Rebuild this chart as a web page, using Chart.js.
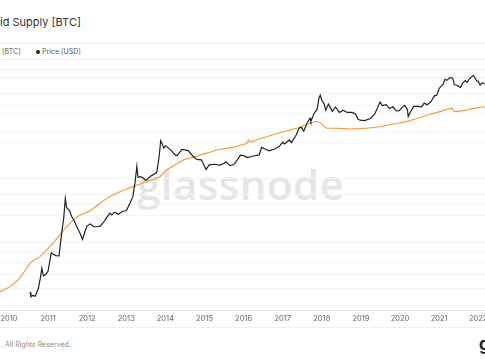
<!DOCTYPE html>
<html>
<head>
<meta charset="utf-8">
<script src="https://cdn.jsdelivr.net/npm/chart.js@4.4.1/dist/chart.umd.min.js"></script>
<style>
    body { margin: 0; width: 485px; height: 360px; overflow: hidden; background: #fff; font-family: Inter, 'Open Sans', sans-serif; position: relative; }
    #titulo { position: absolute; left: 0; top: 17px; font-size: 11px; line-height: 11px; color: #333; white-space: nowrap; }
    #legenda { position: absolute; left: 0; top: 43px; width: 485px; height: 15px; border-top: 1px solid #f0f0f0; border-bottom: 1px solid #f0f0f0; font-size: 7px; color: #555; }
    #legenda span { position: absolute; top: 4px; line-height: 7px; white-space: nowrap; }
    #legenda .ponto { display: inline-block; width: 4px; height: 4px; border-radius: 50%; background: #222; margin-right: 2px; vertical-align: 0px; }
    #marca { position: absolute; left: 137px; top: 163px; font-family: 'Open Sans', sans-serif; font-size: 42px; line-height: 42px; font-weight: 600; letter-spacing: 0.5px; color: #e5e5e5; white-space: nowrap; }
    #grafico { position: absolute; left: 0; top: 59px; }
    #rodape { position: absolute; left: 0; top: 327px; width: 485px; border-top: 1px solid #f0f0f0; }
    #rodape .texto { position: absolute; left: 1px; top: 13px; font-size: 7px; line-height: 7px; color: #888; white-space: nowrap; }
    #rodape .logo { position: absolute; left: 479px; top: 8px; font-size: 17px; line-height: 17px; font-weight: 700; color: #222; }
</style>
</head>
<body>
<div id="titulo">id Supply [BTC]</div>
<div id="legenda">
    <span style="left:2px">[BTC]</span>
    <span style="left:36px"><i class="ponto"></i>Price [USD]</span>
</div>
<div id="marca">glassnode</div>
<canvas id="grafico" width="485" height="266"></canvas>
<div id="rodape"><span class="texto">. All Rights Reserved.</span><span class="logo">g</span></div>

<script>
// - - - - - - - - - - Dados - - - - - - - - - -

// Preço do BTC [USD] (ano decimal)
const anos_preco = [
    2010.54, 2010.56, 2010.60, 2010.67, 2010.75, 2010.80, 2010.84, 2010.88, 2010.95,
    2011.00, 2011.08, 2011.12, 2011.20, 2011.28, 2011.35, 2011.40, 2011.44, 2011.47, 2011.50, 2011.55, 2011.60, 2011.67, 2011.75, 2011.82, 2011.88, 2011.95,
    2012.00, 2012.08, 2012.17, 2012.25, 2012.33, 2012.42, 2012.50, 2012.58, 2012.63, 2012.70, 2012.80, 2012.90,
    2013.00, 2013.08, 2013.17, 2013.23, 2013.27, 2013.30, 2013.35, 2013.42, 2013.50, 2013.55, 2013.62, 2013.70, 2013.78, 2013.84, 2013.88, 2013.92, 2013.96,
    2014.00, 2014.08, 2014.15, 2014.25, 2014.30, 2014.42, 2014.50, 2014.58, 2014.70, 2014.80, 2014.92,
    2015.04, 2015.12, 2015.25, 2015.40, 2015.50, 2015.55, 2015.65, 2015.75, 2015.84, 2015.92,
    2016.00, 2016.10, 2016.25, 2016.40, 2016.46, 2016.55, 2016.65, 2016.80, 2016.92,
    2017.00, 2017.05, 2017.17, 2017.22, 2017.33, 2017.42, 2017.48, 2017.54, 2017.62, 2017.70, 2017.72, 2017.80, 2017.88, 2017.93, 2017.96,
    2018.00, 2018.06, 2018.10, 2018.17, 2018.27, 2018.35, 2018.45, 2018.55, 2018.65, 2018.78, 2018.87, 2018.92, 2018.98,
    2019.10, 2019.25, 2019.35, 2019.42, 2019.49, 2019.55, 2019.65, 2019.73, 2019.82, 2019.90, 2019.97,
    2020.05, 2020.12, 2020.19, 2020.21, 2020.27, 2020.35, 2020.45, 2020.55, 2020.62, 2020.70, 2020.80, 2020.88, 2020.94,
    2021.00, 2021.05, 2021.10, 2021.15, 2021.20, 2021.28, 2021.35, 2021.39, 2021.45, 2021.50, 2021.55, 2021.60, 2021.67, 2021.72, 2021.78, 2021.84, 2021.87, 2021.92, 2021.96,
    2022.00, 2022.05, 2022.10, 2022.17
];
const preco_usd = [
    0.08, 0.06, 0.065, 0.062, 0.10, 0.19, 0.36, 0.22, 0.25,
    0.30, 0.95, 0.88, 0.80, 0.78, 3.5, 8.5, 29, 17, 15, 13.5, 9.5, 7, 4.5, 3.2, 2.2, 3.8,
    5.2, 5.8, 4.9, 4.9, 5.1, 6.5, 8.8, 11.5, 10.3, 12.2, 10.8, 13,
    13.4, 20, 33, 90, 220, 110, 115, 108, 90, 100, 118, 132, 150, 400, 1100, 900, 690,
    800, 690, 590, 450, 430, 640, 620, 590, 420, 340, 330,
    180, 240, 250, 237, 265, 290, 230, 245, 330, 440,
    430, 380, 420, 450, 720, 650, 580, 650, 780,
    1000, 890, 1150, 970, 1450, 2400, 2550, 2000, 3300, 4500, 3700, 6000, 8000, 16500, 19200,
    14000, 11000, 7500, 11000, 7000, 9200, 6500, 7500, 6500, 6500, 5800, 4300, 4000,
    3900, 4500, 5800, 8500, 12500, 10000, 10600, 8300, 9300, 7300, 7200,
    8700, 10200, 7900, 5000, 6800, 9500, 9500, 9250, 11700, 10600, 13200, 18500, 19300,
    29000, 34000, 38000, 52000, 49000, 59000, 56000, 37000, 36000, 33500, 31500, 41000, 48000, 43000, 55000, 62000, 66500, 57000, 47000,
    46500, 36500, 42000, 39000
];

// Oferta ilíquida [BTC]
const anos_oferta = [
    2009.77, 2009.90, 2010.03, 2010.15, 2010.28, 2010.40, 2010.54, 2010.66, 2010.79, 2010.92,
    2011.05, 2011.17, 2011.30, 2011.43, 2011.56, 2011.69, 2011.82, 2011.95,
    2012.07, 2012.20, 2012.33, 2012.45, 2012.58, 2012.71, 2012.84, 2012.97,
    2013.17, 2013.35, 2013.53, 2013.70, 2013.86,
    2014.03, 2014.25, 2014.46, 2014.67, 2014.88,
    2015.10, 2015.31, 2015.52, 2015.74, 2015.95,
    2016.08, 2016.12, 2016.16, 2016.38, 2016.59, 2016.80,
    2017.02, 2017.19, 2017.36, 2017.53, 2017.70, 2017.85, 2017.95,
    2018.05, 2018.13, 2018.38, 2018.55, 2018.72, 2018.95,
    2019.20, 2019.49, 2019.74, 2019.95,
    2020.17, 2020.35, 2020.51, 2020.75,
    2021.02, 2021.15, 2021.28, 2021.33, 2021.38, 2021.45, 2021.58, 2021.71, 2021.85,
    2022.00, 2022.17
];
const oferta_btc = [
    975000, 1010000, 1050000, 1110000, 1190000, 1320000, 1480000, 1560000, 1620000, 1750000,
    1880000, 2040000, 2230000, 2450000, 2640000, 2830000, 2980000, 3070000,
    3160000, 3350000, 3540000, 3720000, 3900000, 4050000, 4190000, 4320000,
    4510000, 4680000, 4850000, 5020000, 5210000,
    5750000, 6200000, 6640000, 6900000, 7140000,
    7400000, 7700000, 7850000, 7990000, 8300000,
    8450000, 8900000, 8600000, 9000000, 9340000, 9700000,
    10040000, 10300000, 10550000, 10950000, 11360000, 11700000, 11500000,
    10900000, 10550000, 10550000, 10500000, 10450000, 10500000,
    10600000, 10800000, 11110000, 11350000,
    11630000, 12000000, 12360000, 12900000,
    13450000, 13800000, 14090000, 14150000, 13500000, 13450000, 13600000, 13790000, 14050000,
    14250000, 14440000
];

// Rótulos e linhas de grade dos eixos
const anos_eixo = [2010, 2011, 2012, 2013, 2014, 2015, 2016, 2017, 2018, 2019, 2020, 2021, 2022];
const ticks_oferta = [1250000, 1500000, 2000000, 3500000, 4000000, 10000000, 13000000, 17500000, 22000000];
const ticks_preco = [0.1, 1, 10, 100, 1000, 10000, 100000];


// - - - - - - - - - - Gráfico - - - - - - - - - -

const ctx_grafico = document.getElementById('grafico').getContext('2d');

const dados_grafico = {
    datasets: [
        {
            label: 'Price [USD]',
            data: anos_preco.map((ano, i) => ({ x: ano, y: preco_usd[i] })),
            yAxisID: 'y1',
            borderColor: '#222222',
            borderWidth: 1.2,
            pointRadius: 0,
            order: 0
        },
        {
            label: 'Illiquid Supply [BTC]',
            data: anos_oferta.map((ano, i) => ({ x: ano, y: oferta_btc[i] })),
            yAxisID: 'y',
            borderColor: '#f29a2e',
            borderWidth: 1.1,
            pointRadius: 0,
            order: 1
        }
    ]
};

const grade = { color: '#f5f5f5', lineWidth: 1, drawTicks: false };

const conf_grafico = {
    responsive: false,
    animation: false,
    devicePixelRatio: 1,
    layout: { padding: 0 },
    plugins: {
        legend: { display: false },
        tooltip: { enabled: false }
    },
    scales: {
        x: {
            type: 'linear',
            min: 2009.77,
            max: 2022.174,
            afterBuildTicks: (eixo) => { eixo.ticks = anos_eixo.map(v => ({ value: v })); },
            afterFit: (eixo) => { eixo.height = 15; eixo.paddingLeft = 0; eixo.paddingRight = 0; },
            ticks: {
                autoSkip: false,
                maxRotation: 0,
                padding: 4,
                color: '#666',
                font: { family: 'Inter', size: 7.5 },
                callback: (valor) => String(valor)
            },
            grid: { display: false, drawTicks: false },
            border: { display: true, color: '#e6e6e6' }
        },
        y: {
            type: 'logarithmic',
            position: 'left',
            min: 747100,
            max: 28970000,
            afterBuildTicks: (eixo) => { eixo.ticks = ticks_oferta.map(v => ({ value: v })); },
            afterFit: (eixo) => { eixo.width = 0; },
            ticks: { display: false },
            grid: grade,
            border: { display: false }
        },
        y1: {
            type: 'logarithmic',
            position: 'right',
            min: 0.02602,
            max: 187700,
            afterBuildTicks: (eixo) => { eixo.ticks = ticks_preco.map(v => ({ value: v })); },
            afterFit: (eixo) => { eixo.width = 0; },
            ticks: { display: false },
            grid: grade,
            border: { display: false }
        }
    }
};

const grafico_oferta = new Chart(ctx_grafico, {
    type: 'line',
    data: dados_grafico,
    options: conf_grafico
});
</script>
</body>
</html>
